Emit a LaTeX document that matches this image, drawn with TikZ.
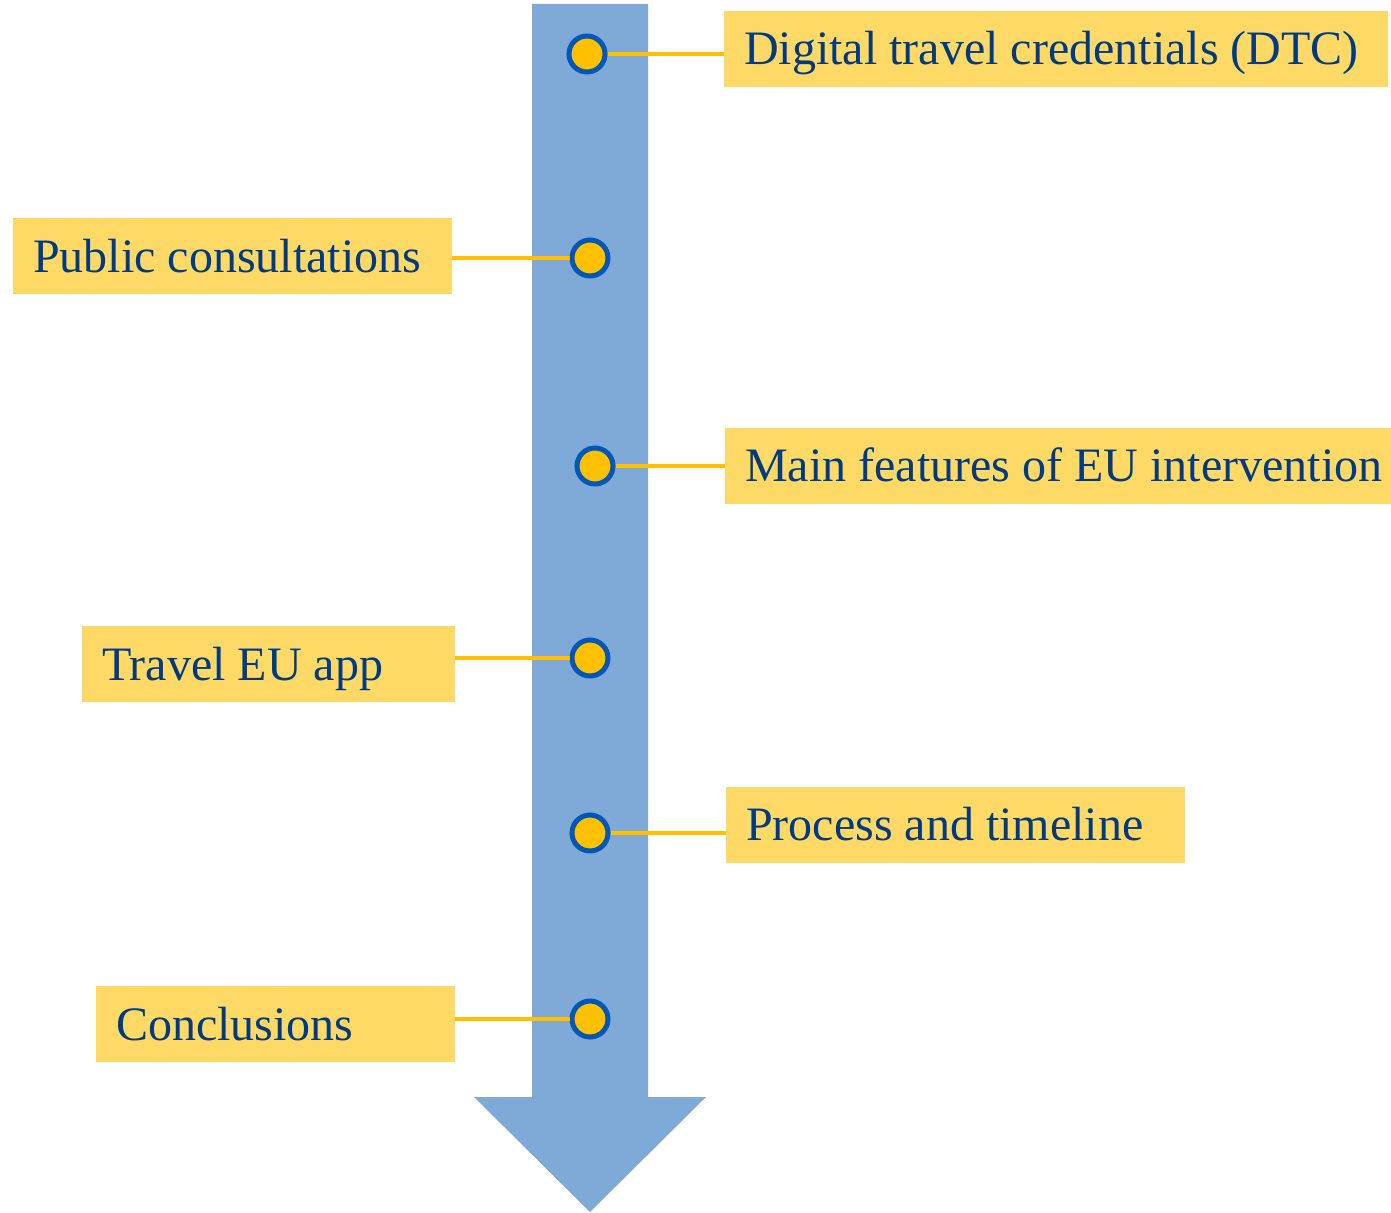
\documentclass[tikz,border=0pt]{standalone}
\usepackage{fontspec}
\setmainfont{Liberation Serif}
\definecolor{arrowblue}{RGB}{127,170,216}
\definecolor{ringblue}{RGB}{0,87,184}
\definecolor{dotyellow}{RGB}{255,192,0}
\definecolor{boxyellow}{RGB}{255,217,102}
\definecolor{textnavy}{RGB}{0,58,128}
\newcommand{\boxtext}[2]{\makebox[#1pt][l]{#2}}
\tikzset{
  labelbox/.style={rectangle, fill=boxyellow, anchor=west, minimum height=76pt,
    inner xsep=20pt, inner ysep=0pt, text=textnavy,
    font=\fontsize{48}{56}\selectfont, text height=36pt, text depth=4pt},
  dot/.style={circle, draw=ringblue, fill=dotyellow, line width=5pt,
    minimum size=36pt, inner sep=0pt},
  leader/.style={draw=dotyellow, line width=4.5pt}
}
\begin{document}
\begin{tikzpicture}[x=1pt,y=-1pt]
\useasboundingbox (0,0) rectangle (1391,1212);
% arrow
\fill[arrowblue] (532,4) -- (648,4) -- (648,1097) -- (706,1097) -- (590,1212)
  -- (474,1097) -- (532,1097) -- cycle;
% boxes
\node[labelbox] (b1) at (724,49) {\boxtext{624}{Digital travel credentials (DTC)}};
\node[labelbox] (b2) at (13,256) {\boxtext{399}{Public consultations}};
\node[labelbox] (b3) at (725,465.5) {\boxtext{626}{Main features of EU intervention}};
\node[labelbox] (b4) at (82,664) {\boxtext{333}{Travel EU app}};
\node[labelbox] (b5) at (726,824.5) {\boxtext{419}{Process and timeline}};
\node[labelbox] (b6) at (96,1024) {\boxtext{319}{Conclusions}};
% dots
\node[dot] (c1) at (587,54) {};
\node[dot] (c2) at (590,258) {};
\node[dot] (c3) at (595,466) {};
\node[dot] (c4) at (590,658) {};
\node[dot] (c5) at (590,833) {};
\node[dot] (c6) at (590,1019) {};
% leaders
\draw[leader] (c1.east) -- (c1 -| b1.west);
\draw[leader] (c2.west) -- (c2 -| b2.east);
\draw[leader] (c3.east) -- (c3 -| b3.west);
\draw[leader] (c4.west) -- (c4 -| b4.east);
\draw[leader] (c5.east) -- (c5 -| b5.west);
\draw[leader] (c6.west) -- (c6 -| b6.east);
\end{tikzpicture}
\end{document}
